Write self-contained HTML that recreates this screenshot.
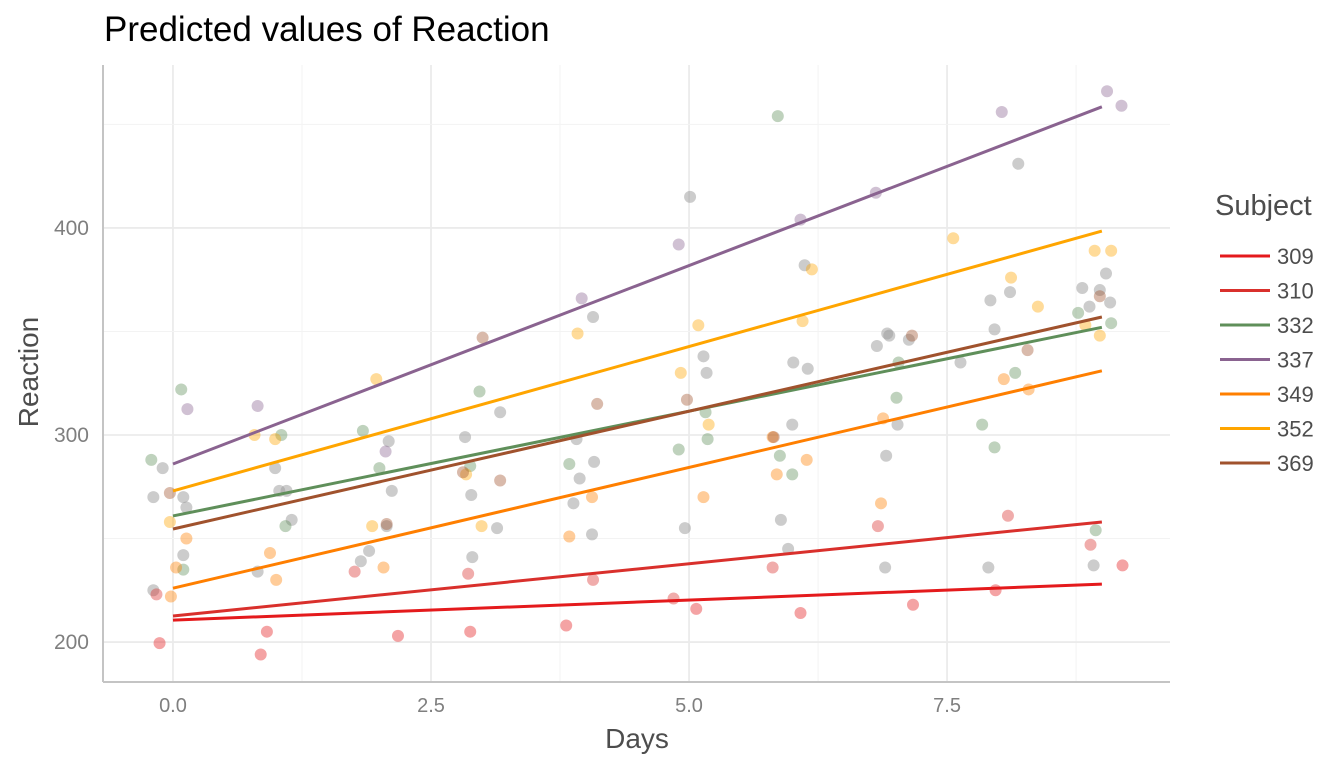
<!DOCTYPE html>
<html><head><meta charset="utf-8"><style>
html,body{margin:0;padding:0;background:#fff;}
svg{display:block;font-family:"Liberation Sans",sans-serif;}
</style></head><body>
<svg id="chart" width="1344" height="768"></svg>
<script>
const subjects=["309","310","332","337","349","352","369"];
const colors=["#e41a1c","#d9302c","#5f8f5a","#8a6390","#ff7f00","#ffa500","#a0522d"];
const lineStart=[210.6,212.6,260.9,286,226,273,254.6];
const lineEnd=[228,258,352,458.5,331,398.5,357];
const xTicks=[0,2.5,5,7.5];
const xTickLabels=["0.0","2.5","5.0","7.5"];
const yTicks=[200,300,400];
const yTickLabels=["200","300","400"];
const grayDays=[-0.19,-0.19,-0.10,0.10,0.10,0.13,0.99,1.03,1.10,1.15,0.82,1.82,1.90,2.07,2.09,2.12,2.83,2.90,2.89,3.14,3.17,3.88,3.91,3.94,4.07,4.08,4.06,5.01,4.96,5.14,5.17,5.89,5.96,6.01,6.00,6.12,6.15,6.82,6.90,6.91,6.92,6.94,7.02,7.13,7.63,7.92,7.96,8.11,8.19,8.81,8.88,8.98,9.04,9.08,8.92,7.90];
const grayReaction=[225,270,284,270,242,265,284,273,273,259,234,239,244,256,297,273,299,241,271,255,311,267,298,279,357,287,252,415,255,338,330,259,245,335,305,382,332,343,236,290,349,348,305,346,335,365,351,369,431,371,362,370,378,364,237,236];
const ptDays=[
[-0.13,0.85,0.91,2.18,2.88,3.81,5.07,6.08,7.17,9.2,7.97],
[-0.16,1.76,4.07,2.86,5.81,6.83,8.09,8.89,4.85],
[-0.21,0.08,0.10,1.05,1.09,1.84,2.00,2.97,2.88,3.84,4.90,5.16,5.18,5.88,6.00,7.01,7.96,7.84,8.94,9.09,5.86,8.77,7.03,8.16],
[0.14,0.82,2.06,3.96,4.90,6.08,6.81,8.03,9.05,9.19],
[-0.02,0.03,0.13,0.94,1.0,2.04,3.84,5.14,5.85,6.14,6.88,8.29,8.05,6.86,4.06,5.81],
[0.79,0.99,1.97,1.93,2.99,3.92,5.09,5.19,6.10,6.19,8.38,7.56,8.93,9.09,8.98,8.84,-0.03,4.92,8.12,2.84],
[3.0,3.17,4.11,4.98,7.16,8.98,8.28,-0.03,2.07,2.81,5.82]];
const ptReaction=[
[199.5,194,205,203,205,208,216,214,218,237,225],
[223,234,230,233,236,256,261,247,221],
[288,322,235,300,256,302,284,321,285,286,293,311,298,290,281,318,294,305,254,354,454,359,335,330],
[312.5,314,292,366,392,404,417,456,466,459],
[222,236,250,243,230,236,251,270,281,288,308,322,327,267,270,299],
[300,298,327,256,256,349,353,305,355,380,362,395,389,389,348,353,258,330,376,281],
[347,278,315,317,348,367,341,272,257,282,299]];

const NS="http://www.w3.org/2000/svg";
const svg=document.getElementById("chart");
const L=103,R=1170,T=65,B=682;
const xMin=-0.678,xMax=9.66,yMin=180.7,yMax=478.7;
function sx(d){return L+(d-xMin)/(xMax-xMin)*(R-L);}
function sy(v){return B-(v-yMin)/(yMax-yMin)*(B-T);}
function mk(tag,attrs,parent){const e=document.createElementNS(NS,tag);for(const k in attrs)e.setAttribute(k,attrs[k]);(parent||svg).appendChild(e);return e;}

const grid=mk("g",{});


for(let i=0;i<xTicks.length;i++){
  mk("line",{x1:sx(xTicks[i]),x2:sx(xTicks[i]),y1:T,y2:B,stroke:"#ebebeb","stroke-width":1.8},grid);
  const m=xTicks[i]+1.25; mk("line",{x1:sx(m),x2:sx(m),y1:T,y2:B,stroke:"#f3f3f3","stroke-width":1},grid);
}
for(let i=0;i<yTicks.length;i++){
  mk("line",{x1:L,x2:R,y1:sy(yTicks[i]),y2:sy(yTicks[i]),stroke:"#ebebeb","stroke-width":1.8},grid);
  const m=yTicks[i]+50; mk("line",{x1:L,x2:R,y1:sy(m),y2:sy(m),stroke:"#f3f3f3","stroke-width":1},grid);
}
const ax=mk("g",{});


mk("line",{x1:L,x2:L,y1:T,y2:B,stroke:"#c4c4c4","stroke-width":2},ax);
mk("line",{x1:L,x2:R,y1:B,y2:B,stroke:"#c4c4c4","stroke-width":2},ax);
for(let i=0;i<xTicks.length;i++){
  const t=mk("text",{x:sx(xTicks[i]),y:712,"text-anchor":"middle","font-size":20,fill:"#7f7f7f"},ax);
  t.textContent=xTickLabels[i];
  
  
}
for(let i=0;i<yTicks.length;i++){
  const t=mk("text",{x:89,y:sy(yTicks[i])+7,"text-anchor":"end","font-size":21,fill:"#7f7f7f"},ax);
  t.textContent=yTickLabels[i];
  
  
}
const gp=mk("g",{});


for(let i=0;i<grayDays.length;i++){
  const c=mk("circle",{cx:sx(grayDays[i]),cy:sy(grayReaction[i]),r:6,fill:"#9a9a9a","fill-opacity":0.5},gp);
  
  
}
for(let s=0;s<subjects.length;s++){
  const g=mk("g",{});
  
  
  for(let i=0;i<ptDays[s].length;i++){
    const c=mk("circle",{cx:sx(ptDays[s][i]),cy:sy(ptReaction[s][i]),r:6,fill:colors[s],"fill-opacity":0.4},g);
    
    
  }
}
for(let s=0;s<subjects.length;s++){
  const l=mk("line",{x1:sx(0),y1:sy(lineStart[s]),x2:sx(9),y2:sy(lineEnd[s]),stroke:colors[s],"stroke-width":3});
  
  
}
const lg=mk("g",{});


const lt=mk("text",{x:1215,y:215,"font-size":29,fill:"#4d4d4d"},lg);
lt.textContent="Subject";


for(let s=0;s<subjects.length;s++){
  const y=256+s*34.5;
  const e=mk("g",{},lg);
  
  
  mk("line",{x1:1220,x2:1270,y1:y,y2:y,stroke:colors[s],"stroke-width":3},e);
  const t=mk("text",{x:1277,y:y+8,"font-size":22,fill:"#4d4d4d"},e);
  t.textContent=subjects[s];
}
const tt=mk("text",{x:104,y:41,"font-size":35,fill:"#000"});
tt.textContent="Predicted values of Reaction";


const xt=mk("text",{x:637,y:748,"text-anchor":"middle","font-size":28,fill:"#4d4d4d"});
xt.textContent="Days";


const yt=mk("text",{x:0,y:0,"text-anchor":"middle","font-size":28,fill:"#4d4d4d",transform:"translate(38,372) rotate(-90)"});
yt.textContent="Reaction";


</script>
</body></html>
